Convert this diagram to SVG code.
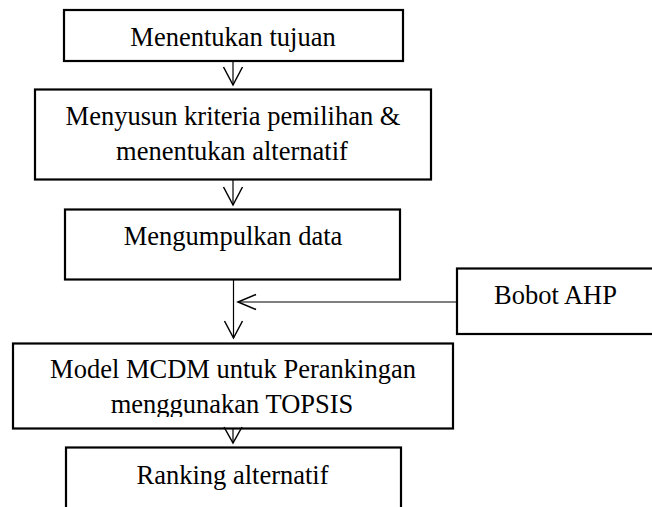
<svg xmlns="http://www.w3.org/2000/svg" width="652" height="507" viewBox="0 0 652 507">
<style>
.box{fill:#fff;stroke:#000;stroke-width:2.2}
.t{font-family:"Liberation Serif","Times New Roman",serif;font-size:26.5px;fill:#000;text-anchor:middle}
.ln{stroke:#000;stroke-width:1.2;fill:none}
.ah{stroke:#000;stroke-width:1.5;fill:none;stroke-linejoin:miter}
</style>
<defs>
<clipPath id="c4"><rect x="13" y="343" width="440" height="74"/></clipPath>
</defs>
<rect width="652" height="507" fill="#fff"/>
<g id="n1">
<rect class="box" x="64" y="10" width="339" height="51"/>
<text class="t" x="233" y="45.5">Menentukan tujuan</text>
</g>
<g id="n2">
<rect class="box" x="35" y="89.5" width="396" height="90"/>
<text class="t" x="233" y="125">Menyusun kriteria pemilihan &amp;</text>
<text class="t" x="232" y="160">menentukan alternatif</text>
</g>
<g id="n3">
<rect class="box" x="65" y="209.5" width="335" height="70"/>
<text class="t" x="233" y="244.5">Mengumpulkan data</text>
</g>
<g id="n6">
<rect class="box" x="457" y="268.5" width="200" height="65.5"/>
<text class="t" x="555.5" y="304">Bobot AHP</text>
</g>
<g id="n4">
<rect class="box" x="13" y="343.5" width="440" height="85"/>
<g clip-path="url(#c4)">
<text class="t" x="233" y="377.5">Model MCDM untuk Perankingan</text>
<text class="t" x="232" y="412.5">menggunakan TOPSIS</text>
</g>
</g>
<g id="n5">
<rect class="box" x="66" y="447.5" width="335" height="70"/>
<text class="t" x="232.5" y="483.5">Ranking alternatif</text>
</g>
<g id="connectors">
<line class="ln" x1="233" y1="61" x2="233" y2="85"/>
<polyline class="ah" points="223.5,67 233,85 242.5,67"/>
<line class="ln" x1="233" y1="179.5" x2="233" y2="205"/>
<polyline class="ah" points="223.5,187 233,205 242.5,187"/>
<line class="ln" x1="233.5" y1="279.5" x2="233.5" y2="338"/>
<polyline class="ah" points="224.5,321 233.5,338 242.5,321"/>
<line class="ln" x1="457" y1="302" x2="238" y2="302"/>
<polyline class="ah" points="256,294.5 238,302 256,309.5"/>
<line class="ln" x1="233" y1="428.5" x2="233" y2="443"/>
<polyline class="ah" points="224,427 233,443 242,427"/>
</g>
</svg>
